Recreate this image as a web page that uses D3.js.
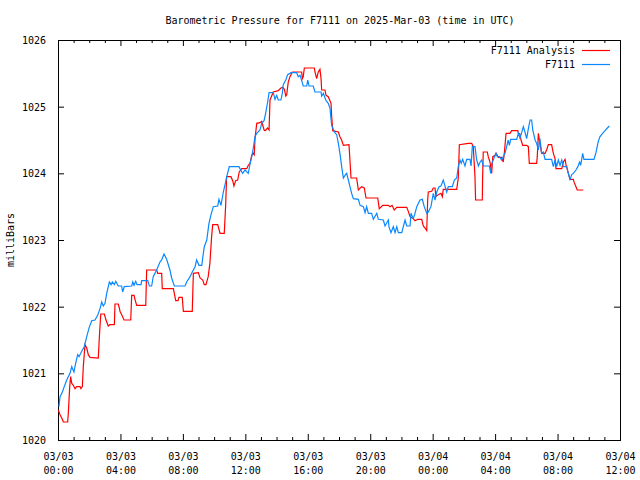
<!DOCTYPE html>
<html><head><meta charset="utf-8">
<script src="https://cdn.jsdelivr.net/npm/d3@7"></script>
<style>
body{margin:0;background:#fff;}
text{font-family:"DejaVu Sans Mono","Liberation Mono",monospace;font-size:10px;fill:#000;}
</style></head>
<body><svg id="c" width="640" height="480"></svg>
<script>
const title = "Barometric Pressure for F7111 on 2025-Mar-03 (time in UTC)";
const yTitle = "milliBars";
const seriesNames = ["F7111 Analysis", "F7111"];
const seriesColors = ["#ff0000", "#0a88ff"];
const xTickHours = [0,4,8,12,16,20,24,28,32,36];
const xTickDates = ["03/03","03/03","03/03","03/03","03/03","03/03","03/04","03/04","03/04","03/04"];
const xTickTimes = ["00:00","04:00","08:00","12:00","16:00","20:00","00:00","04:00","08:00","12:00"];
const yTicks = [1020,1021,1022,1023,1024,1025,1026];

// hours since 2025-03-03 00:00 UTC
const obsHours = [0.06,0.13,0.28,0.40,0.56,0.77,0.88,1.02,1.13,1.26,1.35,1.52,1.68,1.84,2.00,2.16,2.37,2.54,2.69,2.80,2.90,3.01,3.12,3.29,3.40,3.48,3.61,3.70,3.86,4.08,4.14,4.25,4.72,4.79,4.87,4.98,5.06,5.32,5.36,5.75,5.85,6.00,6.10,6.32,6.53,6.64,6.79,6.96,7.17,7.28,7.45,8.14,8.24,8.46,8.60,8.78,8.88,9.03,9.21,9.31,9.37,9.53,9.67,9.80,9.95,10.23,10.31,10.44,10.59,10.70,10.81,10.97,11.59,11.70,11.83,11.98,12.19,12.30,12.41,12.51,12.62,12.73,12.94,13.05,13.20,13.30,13.43,13.52,13.79,13.90,14.01,14.11,14.28,14.37,14.43,14.59,14.71,14.93,15.29,15.39,15.50,15.61,15.71,15.93,16.00,16.08,16.35,16.46,16.85,16.89,17.00,17.15,17.31,17.42,17.53,17.70,17.85,17.96,18.06,18.17,18.28,18.38,18.49,18.60,18.70,18.81,18.92,19.24,19.35,19.56,19.67,19.77,19.88,20.09,20.20,20.42,20.52,20.84,20.95,21.16,21.20,21.33,21.48,21.59,21.70,21.80,22.02,22.12,22.23,22.34,22.55,22.61,22.76,22.87,22.98,23.19,23.34,23.46,23.62,23.72,23.89,24.04,24.15,24.26,24.41,24.53,24.68,24.90,25.00,25.26,25.39,25.54,25.64,25.75,25.83,25.92,26.07,26.18,26.39,26.46,26.54,26.71,26.82,26.93,27.04,27.14,27.25,27.63,27.72,27.79,27.88,28.06,28.14,28.27,28.42,28.52,28.63,28.74,28.84,28.91,29.00,29.38,29.49,29.59,29.70,29.81,29.91,30.02,30.13,30.24,30.34,30.41,30.56,30.66,30.77,30.87,30.98,31.09,31.20,31.62,31.73,31.84,31.94,32.05,32.16,32.27,32.37,32.59,32.69,32.80,32.91,33.01,33.18,33.30,33.41,33.48,33.61,33.69,34.33,34.46,34.61,34.72,34.89,35.04,35.19,35.32];
const obsValues = [1020.50,1020.65,1020.72,1020.80,1020.90,1021.00,1021.10,1021.02,1021.15,1021.28,1021.25,1021.33,1021.40,1021.55,1021.69,1021.79,1021.80,1021.87,1021.97,1022.07,1022.01,1022.05,1022.20,1022.37,1022.33,1022.37,1022.33,1022.38,1022.31,1022.31,1022.22,1022.30,1022.31,1022.37,1022.32,1022.38,1022.33,1022.33,1022.39,1022.39,1022.31,1022.31,1022.45,1022.55,1022.67,1022.70,1022.79,1022.71,1022.55,1022.43,1022.31,1022.31,1022.37,1022.45,1022.52,1022.60,1022.70,1022.62,1022.62,1022.80,1022.90,1023.00,1023.25,1023.38,1023.50,1023.51,1023.61,1023.52,1023.72,1023.83,1023.95,1024.10,1024.10,1024.05,1024.00,1024.05,1024.00,1024.14,1024.25,1024.38,1024.55,1024.60,1024.65,1024.75,1024.79,1024.90,1025.07,1025.21,1025.21,1025.11,1025.17,1025.10,1025.10,1025.20,1025.33,1025.40,1025.48,1025.51,1025.51,1025.45,1025.47,1025.39,1025.31,1025.31,1025.40,1025.31,1025.31,1025.22,1025.22,1025.16,1025.20,1025.10,1025.05,1024.98,1024.72,1024.62,1024.58,1024.45,1024.30,1024.10,1023.93,1023.97,1024.00,1023.90,1023.80,1023.70,1023.62,1023.61,1023.52,1023.50,1023.41,1023.50,1023.40,1023.40,1023.31,1023.40,1023.31,1023.30,1023.21,1023.30,1023.20,1023.11,1023.20,1023.11,1023.20,1023.11,1023.11,1023.20,1023.30,1023.21,1023.21,1023.40,1023.32,1023.40,1023.50,1023.60,1023.61,1023.50,1023.40,1023.42,1023.50,1023.70,1023.60,1023.72,1023.80,1023.81,1023.90,1023.72,1023.80,1023.80,1023.90,1023.93,1024.10,1024.20,1024.15,1024.21,1024.11,1024.21,1024.21,1024.11,1024.40,1024.40,1024.20,1024.11,1024.17,1024.20,1024.11,1024.11,1024.00,1024.15,1024.20,1024.30,1024.25,1024.25,1024.20,1024.25,1024.30,1024.40,1024.50,1024.42,1024.51,1024.51,1024.60,1024.53,1024.61,1024.70,1024.62,1024.52,1024.67,1024.80,1024.80,1024.65,1024.50,1024.45,1024.35,1024.52,1024.30,1024.32,1024.21,1024.21,1024.10,1024.20,1024.10,1024.20,1024.12,1024.20,1024.10,1024.10,1024.00,1023.91,1023.98,1024.00,1024.05,1024.10,1024.17,1024.12,1024.30,1024.21,1024.21,1024.31,1024.48,1024.55,1024.60,1024.64,1024.68,1024.71];

const anaHours = [0.02,0.13,0.28,0.34,0.62,0.66,0.75,0.81,0.88,0.98,1.09,1.20,1.41,1.47,1.56,1.62,1.73,1.84,1.94,2.05,2.58,2.65,2.74,2.97,3.06,3.22,3.33,3.61,3.65,3.86,3.93,3.97,4.08,4.23,4.66,4.72,4.87,4.93,5.04,5.62,5.68,6.32,6.39,6.64,6.68,7.39,7.45,7.54,7.69,7.75,7.96,8.03,8.60,8.67,8.99,9.10,9.27,9.37,9.48,9.62,9.73,9.84,9.91,10.23,10.38,10.65,10.74,10.80,11.08,11.19,11.27,11.38,11.51,11.61,11.77,12.09,12.19,12.30,12.41,12.51,12.57,12.62,12.73,12.94,13.05,13.20,13.27,13.43,13.52,13.58,13.79,14.11,14.28,14.39,14.50,14.59,14.65,14.75,14.86,15.01,15.61,15.65,15.71,15.78,16.42,16.46,16.57,16.67,16.78,16.85,16.89,17.10,17.17,17.31,17.38,17.49,17.53,17.60,17.96,18.06,18.17,18.28,18.64,18.77,19.13,19.24,19.45,19.62,19.73,20.48,20.58,20.80,21.16,21.27,21.40,21.54,21.70,22.34,22.44,22.55,22.76,22.87,23.04,23.30,23.40,23.51,23.62,23.68,23.72,23.94,24.04,24.15,24.21,24.36,24.53,24.62,24.68,25.54,25.64,25.71,26.28,26.50,26.60,26.71,26.75,27.18,27.20,27.24,27.50,27.56,27.67,27.78,27.85,28.00,28.06,28.21,28.42,28.52,28.59,28.70,28.95,29.06,29.45,29.49,29.59,29.66,29.77,30.02,30.13,30.19,30.66,30.70,30.77,30.87,30.98,31.20,31.30,31.41,31.62,31.73,31.84,31.90,32.27,32.37,32.48,32.54,32.69,32.80,33.01,33.07,33.18,33.26,33.65];
const anaValues = [1020.45,1020.38,1020.31,1020.27,1020.27,1020.40,1020.80,1020.95,1020.85,1020.82,1020.77,1020.80,1020.80,1020.77,1020.80,1021.10,1021.43,1021.38,1021.28,1021.24,1021.23,1021.55,1021.89,1021.89,1021.81,1021.71,1021.73,1021.73,1022.04,1022.04,1021.98,1021.93,1021.88,1021.80,1021.80,1022.17,1022.17,1022.11,1022.02,1022.02,1022.55,1022.55,1022.50,1022.50,1022.27,1022.27,1022.20,1022.09,1022.09,1022.14,1022.14,1021.93,1021.93,1022.50,1022.51,1022.43,1022.40,1022.33,1022.33,1022.45,1022.65,1023.05,1023.23,1023.23,1023.10,1023.10,1023.52,1023.95,1023.95,1023.89,1023.81,1023.89,1023.90,1024.02,1024.07,1024.07,1024.12,1024.15,1024.27,1024.30,1024.28,1024.52,1024.75,1024.76,1024.78,1024.65,1024.64,1024.68,1024.65,1025.10,1025.22,1025.24,1025.28,1025.29,1025.26,1025.16,1025.18,1025.37,1025.45,1025.52,1025.52,1025.42,1025.45,1025.58,1025.58,1025.52,1025.42,1025.52,1025.56,1025.42,1025.25,1025.25,1025.17,1025.15,1025.11,1025.05,1024.85,1024.64,1024.62,1024.55,1024.50,1024.42,1024.43,1023.93,1023.93,1023.75,1023.80,1023.78,1023.63,1023.63,1023.47,1023.52,1023.52,1023.50,1023.52,1023.45,1023.49,1023.49,1023.43,1023.35,1023.32,1023.29,1023.31,1023.31,1023.21,1023.18,1023.14,1023.60,1023.72,1023.73,1023.78,1023.78,1023.65,1023.68,1023.70,1023.65,1023.76,1023.76,1023.93,1024.43,1024.45,1024.45,1024.40,1023.95,1023.60,1023.60,1023.95,1024.32,1024.32,1024.25,1024.17,1024.00,1024.25,1024.27,1024.30,1024.24,1024.24,1024.17,1024.30,1024.60,1024.60,1024.64,1024.64,1024.60,1024.59,1024.50,1024.42,1024.42,1024.40,1024.15,1024.15,1024.25,1024.60,1024.45,1024.30,1024.30,1024.35,1024.43,1024.43,1024.30,1024.22,1024.07,1024.07,1024.17,1024.21,1024.13,1024.00,1023.91,1023.91,1023.86,1023.80,1023.75,1023.75];

const svg = d3.select("#c");
const L = 58, R = 620, T = 40, B = 440;
const x = d3.scaleLinear().domain([0, 36]).range([L, R]);
const y = d3.scaleLinear().domain([1020, 1026]).range([B, T]);

// minor ticks (hourly)
const minorHours = d3.range(0, 37).filter(h => h % 4 !== 0);
function noDomain(g){ g.select(".domain").remove(); g.selectAll("line").attr("stroke","#000"); }
svg.append("g").attr("transform",`translate(0,${B})`)
  .call(d3.axisBottom(x).tickValues(minorHours).tickSize(-3).tickFormat("")).call(noDomain);
svg.append("g").attr("transform",`translate(0,${T})`)
  .call(d3.axisTop(x).tickValues(minorHours).tickSize(-3).tickFormat("")).call(noDomain);

// major x ticks
const bx = svg.append("g").attr("transform",`translate(0,${B})`)
  .call(d3.axisBottom(x).tickValues(xTickHours).tickSize(-6).tickFormat("")).call(noDomain);
bx.selectAll(".tick").each(function(d, i){
  const t = d3.select(this).append("text").attr("text-anchor","middle").attr("y", 20);
  t.append("tspan").attr("x",0).attr("dy",0).text(xTickDates[i]);
  t.append("tspan").attr("x",0).attr("dy",14).text(xTickTimes[i]);
});
svg.append("g").attr("transform",`translate(0,${T})`)
  .call(d3.axisTop(x).tickValues(xTickHours).tickSize(-6).tickFormat("")).call(noDomain);

// y ticks
const ly = svg.append("g").attr("transform",`translate(${L},0)`)
  .call(d3.axisLeft(y).tickValues(yTicks).tickSize(-6).tickPadding(12).tickFormat(d3.format("d"))).call(noDomain);
ly.selectAll("text").attr("font-family","DejaVu Sans Mono").attr("font-size","10px").attr("dy","0.35em");
svg.append("g").attr("transform",`translate(${R},0)`)
  .call(d3.axisRight(y).tickValues(yTicks).tickSize(-6).tickFormat("")).call(noDomain);

// frame
svg.append("rect").attr("x",L+0.5).attr("y",T+0.5).attr("width",R-L).attr("height",B-T)
  .attr("fill","none").attr("stroke","#000").attr("stroke-width",1);

// lines
const line = d3.line().x(d => x(d[0])).y(d => y(d[1]));
const ana = anaHours.map((h,i)=>[h, anaValues[i]]);
const obs = obsHours.map((h,i)=>[h, obsValues[i]]);
svg.append("path").datum(ana).attr("d", line).attr("fill","none").attr("stroke",seriesColors[0]).attr("stroke-width",1.2);
svg.append("path").datum(obs).attr("d", line).attr("fill","none").attr("stroke",seriesColors[1]).attr("stroke-width",1.2);

// title
svg.append("text").attr("x",340).attr("y",24).attr("text-anchor","middle").text(title);
// y label
svg.append("text").attr("transform","translate(14,240) rotate(-90)").attr("text-anchor","middle").text(yTitle);

// legend
seriesNames.forEach((n,i)=>{
  const yy = 50 + i*14;
  svg.append("text").attr("x",575).attr("y",yy+4).attr("text-anchor","end").text(n);
  svg.append("line").attr("x1",582).attr("x2",610).attr("y1",yy+0.5).attr("y2",yy+0.5)
    .attr("stroke",seriesColors[i]).attr("stroke-width",1.2);
});
</script></body></html>
